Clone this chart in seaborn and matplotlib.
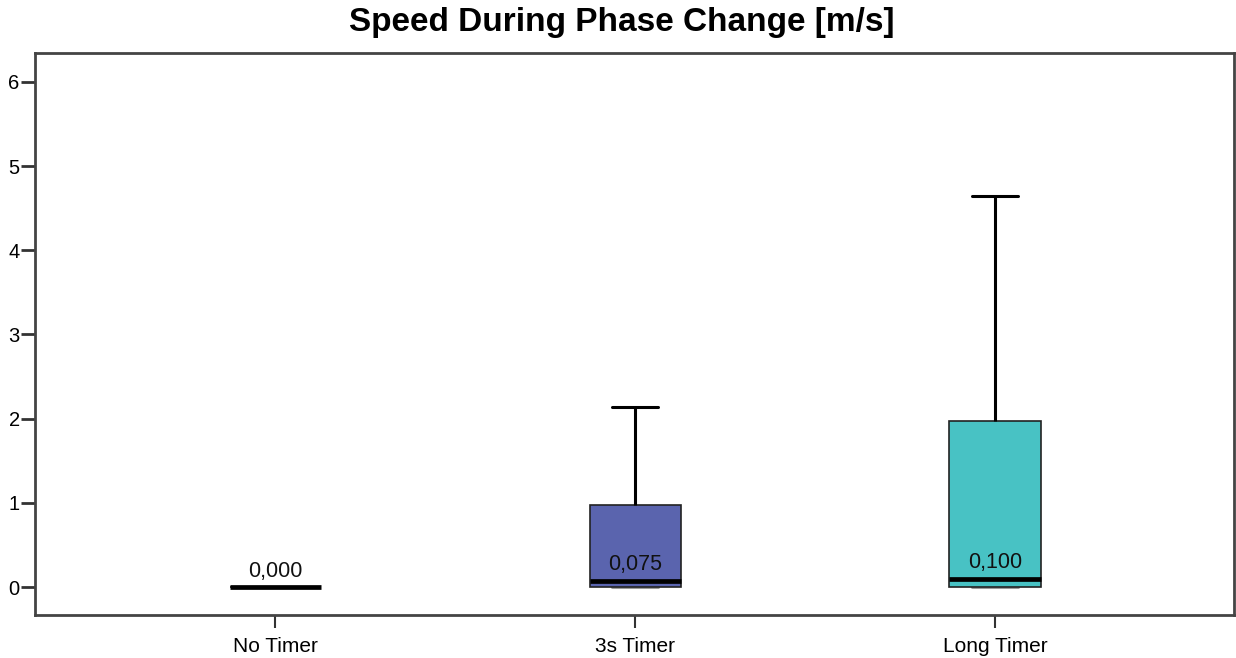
import numpy as np
import pandas as pd
import matplotlib
matplotlib.use("Agg")
import matplotlib.pyplot as plt
import seaborn as sns

# Five-number summaries (min, Q1, median, Q3, max)
categories = ["No Timer", "3s Timer", "Long Timer"]
no_timer = [0.0, 0.0, 0.0, 0.0, 0.0]
timer_3s = [0.0, 0.0, 0.075, 0.975, 2.14]
timer_long = [0.0, 0.0, 0.100, 1.97, 4.64]
box_colors = ["#5a64ae", "#5a64ae", "#48c2c4"]
yticks = [0, 1, 2, 3, 4, 5, 6]
title = "Speed During Phase Change [m/s]"

df = pd.DataFrame({
    "group": np.repeat(categories, 5),
    "speed": no_timer + timer_3s + timer_long,
})

sns.set_theme(style="white")
plt.rcParams["font.family"] = ["Liberation Sans", "DejaVu Sans"]
plt.rcParams["text.color"] = "black"

fig = plt.figure(figsize=(12.36, 6.58), dpi=100)
ax = fig.add_axes([0.0283, 0.0653, 0.9701, 0.8542])

sns.boxplot(
    data=df, x="group", y="speed", hue="group", order=categories,
    palette=dict(zip(categories, box_colors)), legend=False, saturation=1,
    width=0.253, whis=np.inf, linecolor="#111111", linewidth=1.2,
    medianprops=dict(color="black", linewidth=3.4, zorder=5),
    whiskerprops=dict(color="black", linewidth=2.2),
    capprops=dict(color="black", linewidth=2.2),
    boxprops=dict(edgecolor="#222222", linewidth=1.2),
    ax=ax,
)

# lower whisker caps are drawn in light grey in the reference
for cont in ax.containers:
    caps = getattr(cont, "caps", [])
    for k, cap in enumerate(caps):
        if k % 2 == 0:
            cap.set_color("#9a9a9a")
            cap.set_zorder(1)

for i, cat in enumerate(categories):
    vals = df.loc[df.group == cat, "speed"].values
    med = np.median(vals)
    ax.text(i, med + 0.065, f"{med:.3f}".replace(".", ","), ha="center",
            va="bottom", fontsize=15.5, color="#111111", zorder=6)

ax.set_xlim(-0.667, 2.664)
ax.set_ylim(-0.333, 6.344)
ax.set_yticks(yticks)
ax.set_yticklabels([str(t) for t in yticks])
ax.set_xlabel("")
ax.set_ylabel("")
ax.tick_params(axis="y", left=True, length=10, width=2, color="#333333",
               labelsize=14.5, pad=1, labelcolor="black")
ax.tick_params(axis="x", bottom=True, length=9, width=1.5, color="#333333",
               labelsize=15, pad=6.5, labelcolor="black")
for s in ax.spines.values():
    s.set_visible(True)
    s.set_color("#444444")
    s.set_linewidth(2)

fig.suptitle(title, fontsize=24, fontweight="bold", y=1 - 7 / 658, va="top",
             x=0.503)

fig.savefig("out.png", dpi=100)
